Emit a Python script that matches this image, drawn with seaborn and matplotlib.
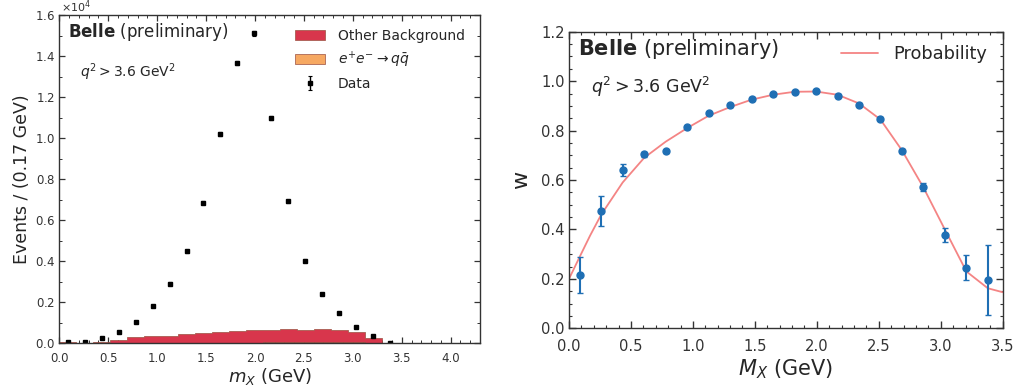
import numpy as np
import pandas as pd
import matplotlib
matplotlib.use("Agg")
import matplotlib.pyplot as plt
import seaborn as sns
from matplotlib.patches import Patch
from matplotlib.ticker import MultipleLocator

# ---------------- data ----------------
bin_centers = [0.087, 0.260, 0.433, 0.607, 0.780, 0.953, 1.127, 1.300, 1.473, 1.647,
               1.820, 1.993, 2.167, 2.340, 2.513, 2.687, 2.860, 3.033, 3.207, 3.380]
bin_edges = [0.0, 0.173, 0.347, 0.520, 0.693, 0.867, 1.040, 1.213, 1.387, 1.560, 1.733,
             1.907, 2.080, 2.253, 2.427, 2.600, 2.773, 2.947, 3.120, 3.293, 3.467]

data_counts = [80, 50, 240, 550, 1060, 1840, 2910, 4480, 6860, 10190,
               13660, 15110, 10970, 6920, 4030, 2390, 1460, 810, 360, 30]
data_errors = [9, 7, 15, 23, 33, 43, 54, 67, 83, 101,
               117, 123, 105, 83, 63, 49, 38, 28, 19, 6]

other_bkg = [75, 30, 75, 140, 300, 330, 345, 410, 475, 525,
             570, 605, 612, 625, 575, 640, 590, 495, 250, 12]
qq_bkg = [8, 4, 9, 12, 14, 16, 18, 20, 22, 25,
          28, 30, 44, 50, 52, 55, 53, 45, 20, 4]

w_values = [0.216, 0.476, 0.640, 0.704, 0.716, 0.813, 0.871, 0.902, 0.929, 0.946,
            0.957, 0.960, 0.941, 0.905, 0.848, 0.719, 0.572, 0.378, 0.245, 0.196]
w_errors = [0.074, 0.061, 0.023, 0.010, 0.006, 0.006, 0.005, 0.005, 0.005, 0.005,
            0.005, 0.005, 0.005, 0.005, 0.006, 0.008, 0.015, 0.029, 0.050, 0.142]

curve_x = [0.0, 0.087, 0.17, 0.26, 0.433, 0.607, 0.78, 0.953, 1.127, 1.30, 1.473, 1.647,
           1.82, 1.993, 2.167, 2.34, 2.513, 2.687, 2.86, 3.033, 3.207, 3.38, 3.5]
curve_w = [0.20, 0.29, 0.375, 0.46, 0.59, 0.69, 0.755, 0.81, 0.86, 0.895, 0.925, 0.945,
           0.957, 0.958, 0.945, 0.91, 0.845, 0.72, 0.57, 0.40, 0.23, 0.162, 0.146]

comp_labels = ["Other Background", r"$e^{+}e^{-} \rightarrow q\bar{q}$"]

# ---------------- style ----------------
sns.set_theme(style="ticks")
plt.rcParams.update({
    "font.family": ["DejaVu Sans"],
    "xtick.direction": "in", "ytick.direction": "in",
    "xtick.top": True, "ytick.right": True,
    "axes.edgecolor": "#333333", "xtick.color": "#333333", "ytick.color": "#333333",
    "axes.linewidth": 1.0, "mathtext.default": "it",
})

red = "#d8364c"
orange = "#f6a862"
blue = "#1f6fb4"
line_red = "#f48484"

fig = plt.figure(figsize=(10.19, 3.92), dpi=100)
ax1 = fig.add_axes([0.0582, 0.1242, 0.4129, 0.8375])
ax2 = fig.add_axes([0.5584, 0.1625, 0.4256, 0.7566])

# ---------------- left panel ----------------
df = pd.DataFrame({
    "mx": bin_centers * 2,
    "count": other_bkg + qq_bkg,
    "comp": [comp_labels[0]] * len(bin_centers) + [comp_labels[1]] * len(bin_centers),
})
sns.histplot(data=df, x="mx", weights="count", hue="comp", hue_order=comp_labels,
             multiple="stack", bins=bin_edges, element="step", alpha=1.0,
             palette={comp_labels[0]: red, comp_labels[1]: orange},
             edgecolor="#9a5040", linewidth=0.5, legend=False, ax=ax1)
eb = ax1.errorbar(bin_centers, data_counts, yerr=data_errors, fmt="s", color="black",
                  ms=2.5, elinewidth=1.0, capsize=1.2, capthick=0.8, lw=0)

ax1.set_xlim(0, 4.3)
ax1.set_ylim(0, 16000)
ax1.xaxis.set_major_locator(MultipleLocator(0.5))
ax1.xaxis.set_minor_locator(MultipleLocator(0.1))
ax1.yaxis.set_major_locator(MultipleLocator(2000))
ax1.yaxis.set_minor_locator(MultipleLocator(1000))
ax1.ticklabel_format(axis="y", style="sci", scilimits=(0, 0), useMathText=True)
ax1.yaxis.get_offset_text().set_visible(False)
ax1.text(0.004, 1.0, r"$\mathregular{\times10^{4}}$", transform=ax1.transAxes,
         fontsize=8, va="bottom", ha="left", color="#333333")
ax1.tick_params(which="major", length=4, width=0.9, labelsize=8.5, pad=3)
ax1.tick_params(axis="x", which="major", pad=6)
ax1.tick_params(which="minor", length=2, width=0.7, top=True, right=True, direction="in")
ax1.set_xlabel(r"$m_X$ (GeV)", fontsize=13, labelpad=1)
ax1.set_ylabel("Events / (0.17 GeV)", fontsize=12.5, labelpad=3)

ax1.text(0.021, 0.948, r"$\mathbf{Belle}$ (preliminary)", transform=ax1.transAxes,
         fontsize=12, va="center", ha="left")
ax1.text(0.05, 0.827, r"$q^2 > 3.6\ \mathrm{GeV}^2$", transform=ax1.transAxes,
         fontsize=10, va="center", ha="left")

handles = [Patch(facecolor=red, edgecolor="#9a5040", linewidth=0.5),
           Patch(facecolor=orange, edgecolor="#9a5040", linewidth=0.5), eb]
ax1.legend(handles, ["Other Background", r"$e^{+}e^{-} \rightarrow q\bar{q}$", "Data"],
           loc="upper right", bbox_to_anchor=(0.98, 0.98), frameon=False,
           fontsize=10, borderpad=0, handlelength=2.2, handletextpad=0.9,
           labelspacing=0.5)

# ---------------- right panel ----------------
sns.lineplot(x=curve_x, y=curve_w, ax=ax2, color=line_red, lw=1.3, label="Probability")
ax2.errorbar(bin_centers, w_values, yerr=w_errors, fmt="o", color=blue, ms=5,
             elinewidth=1.5, capsize=2, capthick=1.0, lw=0)

ax2.set_xlim(0, 3.5)
ax2.set_ylim(0, 1.2)
ax2.xaxis.set_major_locator(MultipleLocator(0.5))
ax2.xaxis.set_minor_locator(MultipleLocator(0.1))
ax2.yaxis.set_major_locator(MultipleLocator(0.2))
ax2.yaxis.set_minor_locator(MultipleLocator(0.05))
ax2.tick_params(which="major", length=5, width=1.0, labelsize=10.6, pad=3)
ax2.tick_params(axis="x", which="major", pad=8)
ax2.tick_params(which="minor", length=2.5, width=0.8, top=True, right=True, direction="in")
ax2.set_xlabel(r"$M_X$ (GeV)", fontsize=15, labelpad=2)
ax2.set_ylabel("w", fontsize=16, labelpad=7)

ax2.text(0.0215, 0.941, r"$\mathbf{Belle}$ (preliminary)", transform=ax2.transAxes,
         fontsize=15, va="center", ha="left")
ax2.text(0.05, 0.815, r"$q^2 > 3.6\ \mathrm{GeV}^2$", transform=ax2.transAxes,
         fontsize=12.5, va="center", ha="left")
ax2.legend(loc="upper right", bbox_to_anchor=(0.985, 0.985), frameon=False,
           fontsize=12.8, borderpad=0, handlelength=2.1, handletextpad=0.85)

fig.savefig("out.png", dpi=100)
